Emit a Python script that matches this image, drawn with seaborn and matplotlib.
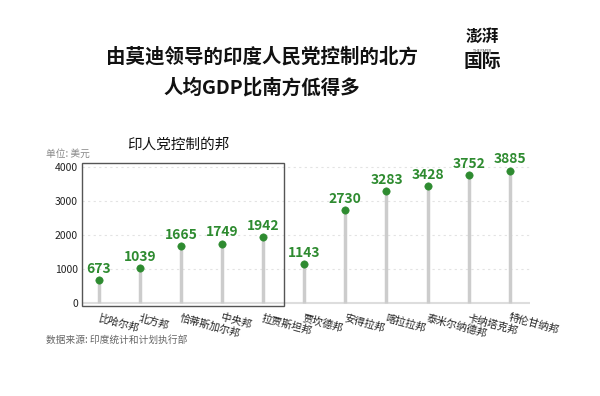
import matplotlib
matplotlib.use("Agg")
import matplotlib.pyplot as plt
from matplotlib.patches import Rectangle
import pandas as pd
import seaborn as sns

# Data (per-capita GDP, USD)
states = ["比哈尔邦", "北方邦", "恰蒂斯加尔邦", "中央邦", "拉贾斯坦邦",
          "贾坎德邦", "安得拉邦", "喀拉拉邦", "泰米尔纳德邦", "卡纳塔克邦", "特伦甘纳邦"]
gdp = [673, 1039, 1665, 1749, 1942, 1143, 2730, 3283, 3428, 3752, 3885]
yticks = [0, 1000, 2000, 3000, 4000]
n_bjp = 5  # first five states are BJP-ruled (boxed)

df = pd.DataFrame({"state": states, "gdp": gdp})
df["pos"] = range(len(df))

sns.set_theme(style="white")
plt.rcParams["font.family"] = ["Noto Sans CJK SC", "DejaVu Sans"]

green = "#2e8b30"
fig = plt.figure(figsize=(6, 3.96), dpi=100)
ax = fig.add_axes([0.137, 0.228, 0.746, 0.36])

ax.vlines(df["pos"], 0, df["gdp"], color="#cccccc", linewidth=2.5, zorder=2)
sns.scatterplot(data=df, x="pos", y="gdp", color=green, s=28, edgecolor=green,
                ax=ax, zorder=3, legend=False)
for p, v in zip(df["pos"], df["gdp"]):
    ax.text(p, v + 120, str(v), color=green, fontsize=10, fontweight="bold",
            ha="center", va="bottom", clip_on=False)

x0, x1 = -0.41, len(df) - 0.51
ax.set_xlim(x0, x1)
ax.set_ylim(-70, 4100)
for y in yticks[1:]:
    ax.axhline(y, color="#e3e3e3", linewidth=0.8, linestyle=(0, (2, 3)), zorder=1)
ax.axhline(0, color="#dddddd", linewidth=1.5, zorder=1)

ax.add_patch(Rectangle((x0, -70), n_bjp - 0.5 - x0, 4170, fill=False,
                       edgecolor="#555555", linewidth=1, zorder=4, clip_on=False))

for s in ax.spines.values():
    s.set_visible(False)
ax.set_yticks(yticks)
ax.set_yticklabels([str(t) for t in yticks], fontsize=7.5, color="#222222")
ax.set_xticks(df["pos"])
ax.set_xticklabels(df["state"], rotation=-15, ha="left", rotation_mode="anchor",
                   fontsize=7.5, color="#222222")
ax.tick_params(axis="both", length=0, pad=3)
ax.tick_params(axis="x", pad=5)
ax.set_xlabel("")
ax.set_ylabel("")

fig.text(0.437, 0.856, "由莫迪领导的印度人民党控制的北方", ha="center", va="center",
         fontsize=14, fontweight="bold", color="#111111")
fig.text(0.437, 0.778, "人均GDP比南方低得多", ha="center", va="center",
         fontsize=14, fontweight="bold", color="#111111")
fig.text(0.297, 0.634, "印人党控制的邦", ha="center", va="center", fontsize=10.5,
         color="#111111")
fig.text(0.077, 0.612, "单位: 美元", ha="left", va="center", fontsize=7, color="#888888")
fig.text(0.077, 0.142, "数据来源: 印度统计和计划执行部", ha="left", va="center",
         fontsize=7, color="#666666")
fig.text(0.803, 0.907, "澎湃", ha="center", va="center", fontsize=12,
         fontweight="bold", color="#111111")
fig.text(0.803, 0.872, "THE PAPER", ha="center", va="center", fontsize=2.5,
         color="#333333")
fig.text(0.803, 0.844, "国际", ha="center", va="center", fontsize=13.5,
         fontweight="bold", color="#111111")

fig.savefig("out.png", dpi=100)
